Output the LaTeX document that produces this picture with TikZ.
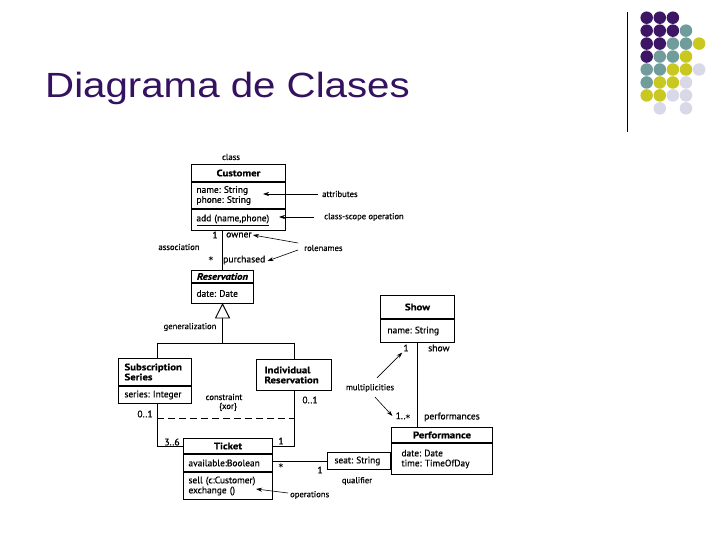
\documentclass[tikz,border=0pt]{standalone}
\usepackage{fontspec}
\setmainfont{Liberation Sans}
\newfontfamily\dfont{PT Sans}[FakeBold=0.5]
\newfontfamily\hfont{PT Sans}[FakeStretch=1.15,FakeBold=0.5]
\newfontfamily\starfont{DejaVu Sans}
\usetikzlibrary{arrows.meta,calc}
\definecolor{titlec}{RGB}{52,18,96}
\definecolor{dotp}{RGB}{60,22,100}
\definecolor{dott}{RGB}{112,156,156}
\definecolor{doty}{RGB}{200,200,32}
\definecolor{dotl}{RGB}{216,216,232}
\def\skipmark{n}
\newcommand{\umlstar}{{\starfont\bfseries\fontsize{9}{9}\selectfont\raisebox{-2.5pt}{*}}}
\frenchspacing
\begin{document}
\begin{tikzpicture}[x=1pt,y=-1pt,
  dtext/.style={font=\dfont\fontsize{9.4}{10}\selectfont},
  htext/.style={font=\hfont\bfseries\fontsize{9.4}{10}\selectfont},
  box/.style={draw,line width=1pt,anchor=north west,inner ysep=0pt,inner xsep=5pt,dtext},
  hd/.style={box,align=center,htext},
  lc/.style={box,align=left},
  lhd/.style={box,align=left,htext},
  lbl/.style={inner sep=0pt,font=\dfont\fontsize{8.6}{9.6}\selectfont},
  role/.style={inner sep=0pt,font=\dfont\fontsize{9.6}{10}\selectfont},
  conn/.style={line width=0.9pt},
  ann/.style={line width=0.6pt,-{Stealth[length=6pt,width=4pt]}},
  dot/.style={circle,inner sep=0pt,minimum size=12.5pt}]
\useasboundingbox (0,0) rectangle (720,540);
\fill[white] (0,0) rectangle (720,540);

% title
\node[anchor=base west,inner sep=0pt,text=titlec,font=\fontsize{35}{35}\selectfont] (title) at (45,97.5) {\scalebox{1.15}[1]{Diagrama de Clases}};

% decoration
\draw[line width=0.8pt] (627,12) coordinate (vl1) -- (627,132) coordinate (vl2);
\foreach \r/\cols in {0/{p,p,p,n,n},1/{p,p,p,t,n},2/{p,p,t,t,y},3/{p,t,t,y,n},4/{t,t,y,y,l},5/{t,y,y,l,n},6/{y,y,l,l,n},7/{n,l,n,l,n}}{
  \foreach \c [count=\i from 0] in \cols {
    \ifx\c\skipmark\else
      \node[dot,fill=dot\c] (d\r\i) at ({646.7+13.1*\i},{17.7+12.95*\r}) {};
    \fi
  }
}

% Customer
\node[hd,minimum width=94,minimum height=17] (custh) at (191,164) {Customer};
\node[lc,text width=84,minimum height=26] (custa) at (custh.south west) {name: String\\phone: String};
\node[lc,text width=84,minimum height=21] (custo) at (custa.south west) {\underline{add (name,phone)}};

% Reservation
\node[hd,minimum width=62,minimum height=12] (resh) at (191,270) {\itshape Reservation};
\node[lc,text width=52,minimum height=20] (resa) at (resh.south west) {date: Date};

% Subscription Series
\node[lhd,text width=61,minimum height=27,inner xsep=6pt] (subh) at (118,358) {Subscription\\Series};
\node[lc,text width=61,minimum height=17,inner xsep=6pt] (suba) at (subh.south west) {series: Integer};

% Individual Reservation
\node[lhd,text width=59,minimum height=31,inner xsep=8pt] (indh) at (256,359) {Individual\\Reservation};

% Show
\node[hd,minimum width=74,minimum height=23] (showh) at (380,295) {Show};
\node[lc,text width=60,minimum height=23,inner xsep=7pt] (showa) at (showh.south west) {name: String};

% Performance
\node[hd,minimum width=101,minimum height=15] (perfh) at (391,427) {Performance};
\node[lc,text width=81,minimum height=31,inner xsep=10pt] (perfa) at (perfh.south west) {date: Date\\time: TimeOfDay};

% qualifier box
\node[lc,text width=49,minimum height=17,inner xsep=7pt,anchor=north east] (seat) at (391,452) {seat: String};

% Ticket
\node[hd,minimum width=89,minimum height=15] (tkh) at (183,438) {Ticket};
\node[lc,text width=79,minimum height=17] (tka) at (tkh.south west) {available:Boolean};
\node[lc,text width=79,minimum height=27] (tko) at (tka.south west) {sell (c:Customer)\\exchange ()};

% association Customer - Reservation
\draw[conn] (resh.north) -- (resh.north |- custo.south);

% generalization
\coordinate (gtop) at ($(resa.south)+(0,14)$);
\draw[line width=0.9pt,fill=white] (resa.south) -- ++(-7,14) -- ++(14,0) -- cycle;
\coordinate (gl) at (157,343);
\draw[conn] (gtop) |- (gl) -- (gl |- subh.north);
\draw[conn] (gtop) |- (indh.north |- gl) -- (indh.north);

% Ticket links
\draw[conn] (gl |- suba.south) |- (tkh.west);
\draw[conn] (indh.south) |- (tkh.east);
\coordinate (dl) at (157,418);
\draw[conn,dash pattern=on 7pt off 4pt] (dl) -- (dl -| indh.south);

% qualified association
\draw[conn] (seat.west -| tka.east) -- (seat.west);

% Show - Performance
\draw[conn] (showa.south) -- (showa.south |- perfh.north);

% labels
\node[lbl] (lclass) at (231,157) {class};
\node[lbl,anchor=west] (lattr) at (322,194) {attributes};
\node[lbl,anchor=west] (lcso) at (324,217) {class-scope operation};
\node[role] (m1a) at (215,235) {1};
\node[role,anchor=west] (lowner) at (226,235) {owner};
\node[lbl] (lassoc) at (179,247) {association};
\node[role] (sta) at (211,260) {\umlstar};
\node[role,anchor=west] (lpurch) at (223,260) {purchased};
\node[lbl,anchor=west] (lrole) at (304,248) {rolenames};
\node[lbl] (lgen) at (190,327) {generalization};
\node[lbl] (lcons) at (224,397) {constraint};
\node[lbl] (lxor) at (228,407) {\{xor\}};
\node[role] (m01a) at (145,414) {0..1};
\node[role] (m01b) at (310,400) {0..1};
\node[role] (m36) at (172,442) {3..6};
\node[role] (m1b) at (281,441) {1};
\node[role] (stb) at (281,467) {\umlstar};
\node[role] (m1c) at (320,470) {1};
\node[lbl] (lqual) at (357,481) {qualifier};
\node[lbl,anchor=west] (lops) at (290,495) {operations};
\node[role] (m1d) at (406,348) {1};
\node[role,anchor=west] (lshow) at (428,348) {show};
\node[lbl] (lmult) at (370,388) {multiplicities};
\node[role] (m1s) at (403,417) {1..\umlstar};
\node[role,anchor=west] (lperf) at (424,417) {performances};

% annotation arrows
\draw[ann] (lattr.west) ++(-4,0) -- (263,194);
\draw[ann] (lcso.west) ++(-10,0) -- (279,217);
\draw[ann] (298,243) -- ($(lowner.east)+(1,0)$);
\draw[ann] (298,250) -- ($(lpurch.east)+(2,1)$);
\draw[ann] (lmult.north) ++(7,-6) -- ($(m1d.south west)+(-1,1)$);
\draw[ann] (lmult.south) ++(5,5) -- ($(m1s.west)+(-3,-1)$);
\draw[ann] (lops.west) ++(-2,-2) -- (256,489);
\end{tikzpicture}
\end{document}
